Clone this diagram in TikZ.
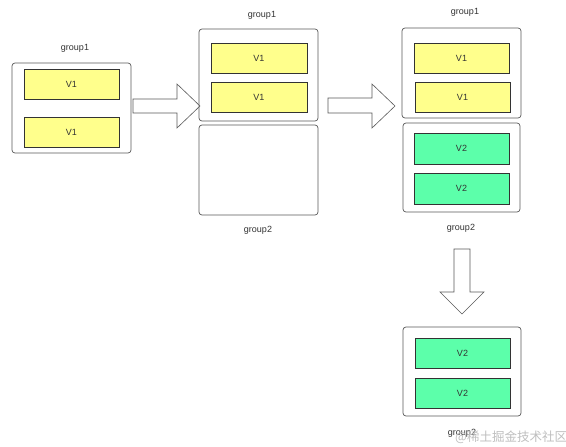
\documentclass[tikz,border=0pt]{standalone}
\usepackage{fontspec}
\setmainfont{Liberation Sans}
\newfontfamily\cjkfont{Noto Sans CJK SC}
\usetikzlibrary{positioning}
\definecolor{vyellow}{RGB}{255,255,140}
\definecolor{vgreen}{RGB}{92,255,170}
\definecolor{txtgray}{RGB}{51,51,51}
\definecolor{boxgray}{RGB}{90,90,90}
\tikzset{
  groupbox/.style={draw=boxgray,rounded corners=3pt,line width=0.7pt,minimum width=119pt,inner sep=0pt},
  vbox/.style={draw=txtgray,line width=0.6pt,minimum width=95pt,minimum height=30pt,inner sep=0pt,font=\fontsize{9}{10}\selectfont,text=txtgray},
  vone/.style={vbox,fill=vyellow},
  vtwo/.style={vbox,fill=vgreen},
  grouplabel/.style={font=\fontsize{9}{10}\selectfont,text=txtgray,inner sep=0pt},
  blockarrow/.style={draw=boxgray,fill=white,line width=0.6pt,line join=miter}
}
\begin{document}
\begin{tikzpicture}[x=1pt,y=-1pt]
\useasboundingbox (0,0) rectangle (566,447);
\fill[white] (0,0) rectangle (566,447);

% first state
\node[groupbox,minimum height=90pt] (A) at (71.5,108) {};
\node[vone] (A1) at (71.5,84) {V1};
\node[vone] (A2) at (71.5,132) {V1};
\node[grouplabel] (Alab) at (75,48) {group1};

\draw[blockarrow] (133,99) -- (177,99) -- (177,84) -- (200,106) -- (177,128) -- (177,113) -- (133,113) -- cycle;

% second state
\node[groupbox,minimum height=92pt] (B) at (258.5,75) {};
\node[vone,minimum width=96pt] (B1) at (259,58) {V1};
\node[vone,minimum width=96pt] (B2) at (259,97) {V1};
\node[groupbox,minimum height=90pt] (Bnew) at (258.5,170) {};
\node[grouplabel] (Blab) at (262,15) {group1};
\node[grouplabel] (Bnewlab) at (258,230) {group2};

\draw[blockarrow] (328,98) -- (372,98) -- (372,84) -- (395,106) -- (372,128) -- (372,113) -- (328,113) -- cycle;

% third state
\node[groupbox,minimum height=90pt] (C) at (461.5,73) {};
\node[vone] (C1) at (461.5,58) {V1};
\node[vone] (C2) at (462.5,97) {V1};
\node[groupbox,minimum width=117pt,minimum height=89pt] (Cnew) at (461.5,167.5) {};
\node[vtwo,minimum height=31pt] (C3) at (461.5,148.5) {V2};
\node[vtwo,minimum height=31pt] (C4) at (461.5,188.5) {V2};
\node[grouplabel] (Clab) at (465,12) {group1};
\node[grouplabel] (Cnewlab) at (461,228) {group2};

\draw[blockarrow] (454,249) -- (470,249) -- (470,292) -- (484,292) -- (462,314) -- (440,292) -- (454,292) -- cycle;

% last state
\node[groupbox,minimum width=118pt,minimum height=89pt] (D) at (462,371.5) {};
\node[vtwo] (D1) at (462.5,353) {V2};
\node[vtwo] (D2) at (462.5,393) {V2};
\node[grouplabel] (Dlab) at (462,433) {group2};
\node[font=\cjkfont\fontsize{12.5}{13}\selectfont,text=black!25,inner sep=0pt,anchor=west] (mark) at (455,437) {@稀土掘金技术社区};

\end{tikzpicture}
\end{document}
